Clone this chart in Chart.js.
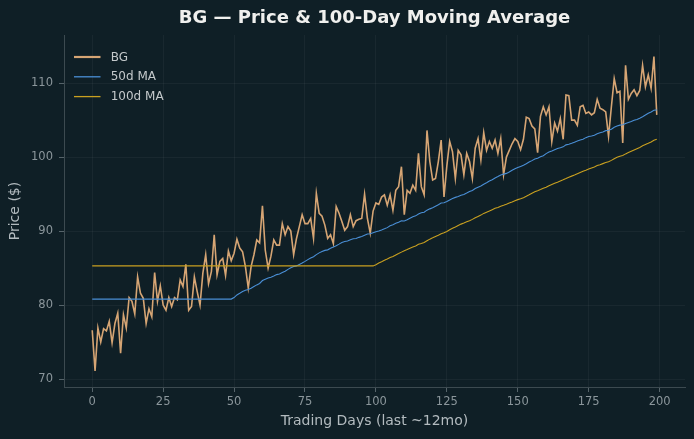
<!DOCTYPE html>
<html>
<head>
<meta charset="utf-8">
<script src="https://cdn.jsdelivr.net/npm/chart.js@4.4.1/dist/chart.umd.min.js"></script>
<style>
  html, body { margin: 0; padding: 0; background: #0f1f26; }
  canvas { display: block; }
</style>
</head>
<body>
<canvas id="c" width="694" height="439"></canvas>
<script>
// ---- data ----
const chartTitle = 'BG \u2014 Price & 100-Day Moving Average';
const xAxisTitle = 'Trading Days (last ~12mo)';
const yAxisTitle = 'Price ($)';
const seriesNames = ['BG', '50d MA', '100d MA'];
const maWindows = [50, 100];
const xTickValues = [0, 25, 50, 75, 100, 125, 150, 175, 200];
const yTickValues = [70, 80, 90, 100, 110];

const bgClose = [
  76.6, 71.1, 76.9, 75.0, 76.8, 76.5, 77.8, 74.9, 77.5, 78.9, 73.5, 78.7, 76.9, 81.0, 80.5, 78.8, 83.8, 81.6, 80.9, 77.5, 79.5, 78.4, 84.4, 80.5, 82.6,
  80.0, 79.3, 81.0, 79.8, 81.0, 80.7, 83.4, 82.5, 85.5, 79.3, 79.8, 83.8, 81.8, 80.0, 84.3, 86.8, 82.9, 84.5, 89.5, 84.1, 85.9, 86.3, 84.0, 87.3, 86.0,
  87.0, 88.9, 87.7, 87.2, 85.2, 82.3, 85.2, 86.8, 88.8, 88.4, 93.4, 87.4, 85.0, 86.6, 88.8, 88.1, 88.1, 91.0, 89.5, 90.6, 90.0, 86.8, 89.0, 90.6, 92.2,
  91.0, 91.0, 91.7, 89.0, 95.1, 92.4, 92.0, 90.8, 89.0, 89.5, 88.3, 93.3, 92.4, 91.3, 90.1, 90.6, 92.2, 90.6, 91.4, 91.6, 91.7, 95.0, 91.7, 89.7, 92.7,
  93.8, 93.6, 94.6, 94.9, 93.5, 94.9, 92.8, 95.5, 96.0, 98.7, 92.2, 95.5, 95.1, 96.2, 95.5, 100.5, 96.0, 94.9, 103.6, 99.4, 96.9, 97.1, 99.4, 102.3, 94.6,
  98.8, 102.1, 100.7, 97.1, 100.9, 100.3, 97.6, 100.5, 99.4, 97.1, 101.2, 102.5, 99.6, 103.3, 100.9, 102.1, 101.2, 102.3, 100.5, 102.5, 97.6, 100.0, 100.9, 101.8, 102.5,
  102.1, 101.0, 102.4, 105.4, 105.2, 104.2, 103.8, 100.6, 105.5, 106.8, 105.7, 106.8, 102.1, 104.6, 103.5, 105.2, 102.4, 108.4, 108.3, 105.0, 105.0, 104.3, 106.8, 107.0, 105.9,
  106.1, 105.7, 106.0, 107.8, 106.6, 106.4, 106.1, 102.8, 106.8, 110.6, 108.7, 108.9, 101.9, 112.4, 107.8, 108.6, 109.1, 108.3, 109.0, 112.4, 109.5, 111.1, 109.3, 113.6, 105.7
];

// moving average of the price series (first window back-filled with first full average)
function rollingMean(values, n) {
  const out = [];
  for (let i = 0; i < values.length; i++) {
    const end = Math.max(i, n - 1);
    let s = 0;
    for (let k = end - n + 1; k <= end; k++) s += values[k];
    out.push(s / n);
  }
  return out;
}
const ma50 = rollingMean(bgClose, maWindows[0]);
const ma100 = rollingMean(bgClose, maWindows[1]);

const toPoints = arr => arr.map((v, i) => ({ x: i, y: v }));

// ---- styling ----
const BG = '#0f1f26';
const tickColor = '#8b969b';
const labelColor = '#b3bbbf';
const gridColor = 'rgba(255,255,255,0.045)';
const spineColor = '#3c4a50';
Chart.defaults.font.family = '"DejaVu Sans", sans-serif';

const bgPlugin = {
  id: 'bgfill',
  beforeDraw(chart) {
    const c = chart.ctx;
    c.save();
    c.fillStyle = BG;
    c.fillRect(0, 0, chart.width, chart.height);
    c.restore();
  }
};

const titlePlugin = {
  id: 'mtitle',
  afterDraw(chart) {
    const c = chart.ctx, a = chart.chartArea;
    c.save();
    c.font = 'bold 18px "DejaVu Sans", sans-serif';
    c.fillStyle = '#f0f0ee';
    c.textAlign = 'center';
    c.textBaseline = 'middle';
    c.fillText(chartTitle, (a.left + a.right) / 2, 18);
    c.restore();
  }
};

const legendPlugin = {
  id: 'mlegend',
  afterDraw(chart) {
    const c = chart.ctx;
    c.save();
    c.font = '12px "DejaVu Sans", sans-serif';
    c.textAlign = 'left';
    c.textBaseline = 'middle';
    chart.data.datasets.forEach((ds, i) => {
      const y = 57 + i * 19.8;
      c.strokeStyle = ds.borderColor;
      c.lineWidth = i === 0 ? 2.2 : 1.3;
      c.beginPath();
      c.moveTo(74, y);
      c.lineTo(100.5, y);
      c.stroke();
      c.fillStyle = '#c4c9cb';
      c.fillText(ds.label, 110.7, y + 0.5);
    });
    c.restore();
  }
};

new Chart(document.getElementById('c'), {
  type: 'line',
  data: {
    datasets: [
      { label: seriesNames[0], data: toPoints(bgClose), borderColor: '#d6a574', borderWidth: 1.6, pointRadius: 0, tension: 0, order: 3 },
      { label: seriesNames[1], data: toPoints(ma50), borderColor: '#4a8fd6', borderWidth: 1.1, pointRadius: 0, tension: 0, order: 2 },
      { label: seriesNames[2], data: toPoints(ma100), borderColor: '#c9a020', borderWidth: 1.1, pointRadius: 0, tension: 0, order: 1 }
    ]
  },
  options: {
    responsive: false,
    animation: false,
    devicePixelRatio: 1,
    layout: { padding: { top: 35, right: 9, left: 0, bottom: 0 } },
    plugins: { legend: { display: false }, title: { display: false }, tooltip: { enabled: false } },
    scales: {
      x: {
        type: 'linear',
        min: -9.95, max: 208.95,
        afterBuildTicks: s => { s.ticks = xTickValues.map(v => ({ value: v })); },
        afterFit: s => { s.height = 52; },
        ticks: { color: tickColor, font: { size: 11.5 }, padding: 3, maxRotation: 0, autoSkip: false },
        grid: { color: gridColor, tickColor: '#56646a', tickLength: 5, lineWidth: 1 },
        border: { color: spineColor, width: 1 },
        title: { display: true, text: xAxisTitle, color: labelColor, font: { size: 14 }, padding: { top: 0, bottom: 9.6 } }
      },
      y: {
        type: 'linear',
        min: 68.92, max: 116.5,
        afterBuildTicks: s => { s.ticks = yTickValues.map(v => ({ value: v })); },
        afterFit: s => { s.width = 64; },
        ticks: { color: tickColor, font: { size: 11.5 }, padding: 6, autoSkip: false },
        grid: { color: gridColor, tickColor: '#56646a', tickLength: 5, lineWidth: 1 },
        border: { color: spineColor, width: 1 },
        title: { display: true, text: yAxisTitle, color: labelColor, font: { size: 14 }, padding: { top: 6.6, bottom: 0 } }
      }
    }
  },
  plugins: [bgPlugin, titlePlugin, legendPlugin]
});
</script>
</body>
</html>
